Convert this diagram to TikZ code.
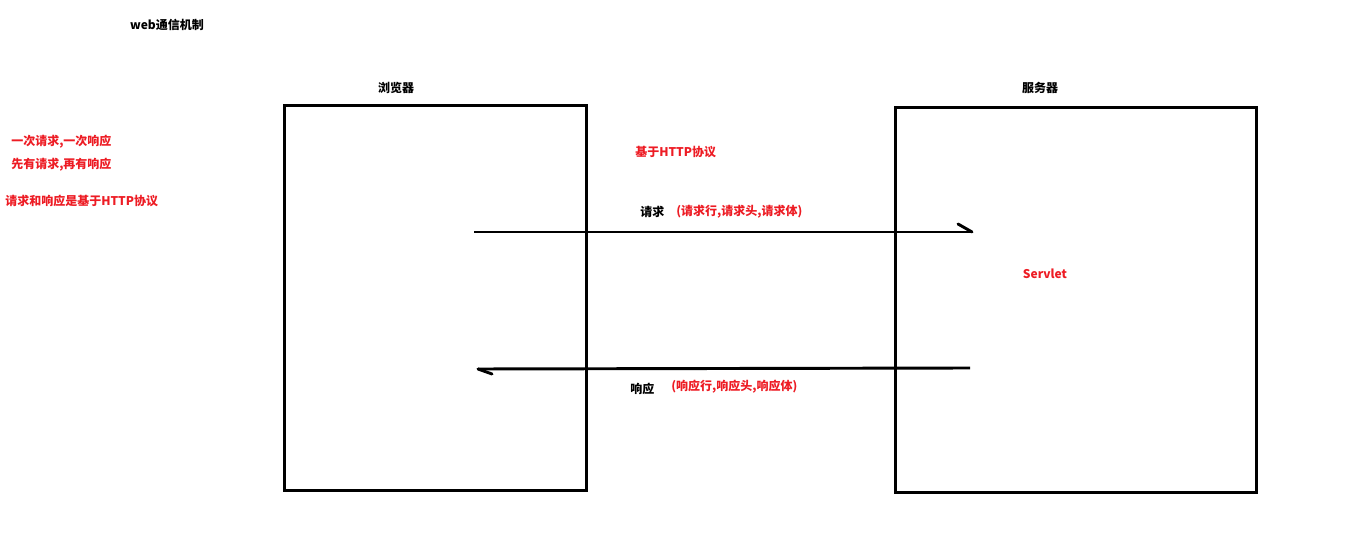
\documentclass[tikz,border=0pt]{standalone}
\usepackage{fontspec}
\setmainfont{Noto Sans CJK SC}
\definecolor{pred}{HTML}{ED1C24}
\begin{document}
\begin{tikzpicture}[x=0.75pt,y=-0.75pt,
  box/.style={draw=black,line width=2.2pt},
  conn/.style={draw=black,line width=2.2pt},
  lab/.style={font=\fontsize{9pt}{10pt}\selectfont\bfseries,inner sep=0pt,anchor=west},
  rlab/.style={lab,text=pred}]
\useasboundingbox (0,0) rectangle (1356,548);
\node[box,minimum width=302*0.75pt,minimum height=385*0.75pt,inner sep=0pt] (browser) at (435.5,298) {};
\node[box,minimum width=361*0.75pt,minimum height=385*0.75pt,inner sep=0pt] (server) at (1076,300) {};
\node[lab,anchor=center] (title) at (167,25) {web通信机制};
\node[lab,anchor=center] (bl) at (396,88) {浏览器};
\node[lab,anchor=center] (sl) at (1040,88) {服务器};
\node[rlab] (t1) at (11,142) {一次请求,一次响应};
\node[rlab] (t2) at (11,165) {先有请求,再有响应};
\node[rlab] (t3) at (5,201) {请求和响应是基于HTTP协议};
\node[rlab] (http) at (635,152) {基于HTTP协议};
\node[lab] (req) at (640,212) {请求};
\node[rlab] (reqd) at (676,212) {(请求行,请求头,请求体)};
\node[rlab,anchor=center] (servlet) at (1045,274) {Servlet};
\node[lab] (resp) at (630,389) {响应};
\node[rlab] (respd) at (671,387) {(响应行,响应头,响应体)};
\coordinate (a1) at (474,232);
\coordinate (a2) at (972,232);
\coordinate (a3) at (958,224);
\coordinate (b1) at (970,368);
\coordinate (b2) at (478,369);
\coordinate (b3) at (492,374);
\draw[conn] (a1) -- (a2);
\draw[conn,line cap=round] (a3) -- (a2);
\draw[conn] (b1) -- (b2);
\draw[conn,line cap=round] (b2) -- (b3);
\end{tikzpicture}
\end{document}
